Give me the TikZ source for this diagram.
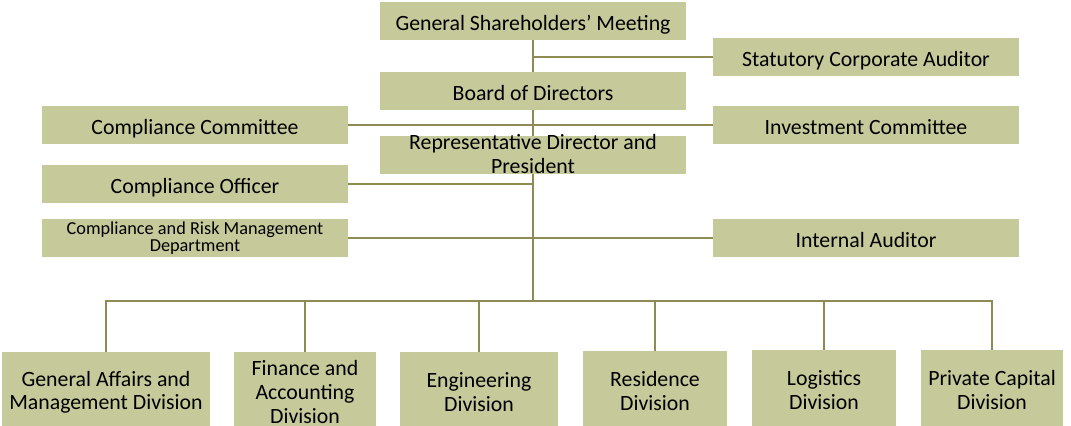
\documentclass[tikz,border=0pt]{standalone}
\usepackage{fontspec}
\setmainfont{Carlito}
\usepackage{tikz}
\usetikzlibrary{positioning}
\definecolor{OrgFill}{HTML}{C6C99A}
\definecolor{OrgLine}{HTML}{8E8B55}

\begin{document}
\begin{tikzpicture}[x=0.025cm,y=-0.025cm,
  orgbox/.style={fill=OrgFill,minimum width=7.63cm,minimum height=0.95cm,inner sep=0pt,align=center,font=\fontsize{15.5}{17}\selectfont},
  orgline/.style={orgbox,text height=13.5pt,text depth=0pt},
  divbox/.style={fill=OrgFill,anchor=north,minimum height=2cm,inner sep=0pt,align=center,font=\fontsize{15.5}{17}\selectfont},
  trunk/.style={OrgLine,line width=2pt},
  branch/.style={OrgLine,line width=1pt}]
\clip (0,0) rectangle (1071,426);
% centre column
\node[orgline] (gsm) at (533,21) {General Shareholders’ Meeting};
\node[orgline] (board) at (533,91) {Board of Directors};
\node[orgbox] (rep) at (533,155) {\smash{\raisebox{-0.3em}{\begin{tabular}{@{}c@{}}Representative Director and\\President\end{tabular}}}};
% left column
\node[orgline] (cc) at (195,125) {Compliance Committee};
\node[orgline] (co) at (195,184) {Compliance Officer};
\node[orgbox,font=\fontsize{13}{12}\selectfont] (crm) at (195,238) {Compliance and Risk Management\\Department};
% right column
\node[orgline] (sca) at (866,57) {Statutory Corporate Auditor};
\node[orgline] (ic) at (866,125) {Investment Committee};
\node[orgline] (ia) at (866,238) {Internal Auditor};
% divisions
\node[divbox,minimum width=5.2cm] (ga) at (106,352) {General Affairs and\\Management Division};
\node[divbox,minimum width=3.53cm] (fin) at (305,352) {Finance and\\Accounting\\Division};
\node[divbox,minimum width=3.95cm] (eng) at (479,352) {Engineering\\Division};
\node[divbox,minimum width=3.6cm] (res) at (655,351) {Residence\\Division};
\node[divbox,minimum width=3.58cm] (log) at (824,350) {Logistics\\Division};
\node[divbox,minimum width=3.55cm] (pc) at (992,350) {Private Capital\\Division};
\coordinate (bus) at (533,301);
\draw[trunk] (gsm) -- (board);
\draw[trunk] (board) -- (rep);
\draw[trunk] (rep) -- (bus);
\draw[branch] (gsm.south |- sca.west) -- (sca.west);
\draw[branch] (cc) -- (ic);
\draw[branch] (co.east) -- (co.east -| gsm.south);
\draw[branch] (crm) -- (ia);
\foreach \d in {ga,fin,eng,res,log,pc}
  \draw[branch] (bus) -| (\d.north);
\end{tikzpicture}
\end{document}
